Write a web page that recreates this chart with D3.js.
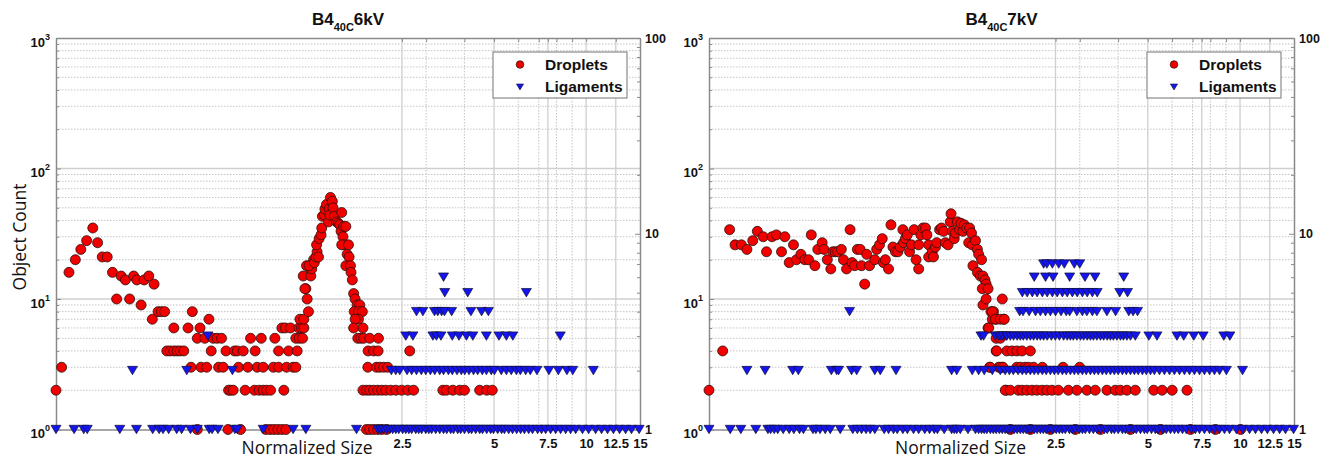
<!DOCTYPE html>
<html><head><meta charset="utf-8">
<script src="https://cdn.jsdelivr.net/npm/d3@7/dist/d3.min.js"></script>
<style>body{margin:0;background:#fff;} svg{display:block;}</style>
</head><body><svg id="c" width="1323" height="458"></svg>
<script>
// ---------- DATA ----------
const xDomain = [0.185, 15];
const xTickValues = [2.5, 5, 7.5, 10, 12.5, 15];
const xTickLabels = ["2.5", "5", "7.5", "10", "12.5", "15"];
const xMinorGrid = [3, 4, 6, 7, 8, 9];
const countTicks = [1, 10, 100, 1000];
const countExponents = ["0", "1", "2", "3"];
const ligTicks = [1, 10, 100];
const ligTickLabels = ["1", "10", "100"];
const panelNames = ["6kV", "7kV"];
const seriesNames = ["Droplets", "Ligaments"];

// B4 40C 6kV : droplets [size, count] (left axis)
const droplets6kV = [
[0.185,2],[0.193,3],[0.204,16],[0.214,20],[0.223,24],[0.233,28],[0.244,35],[0.253,27],[0.262,21],[0.272,21],[0.283,16],[0.292,10],[0.302,15],[0.312,14],[0.322,10],[0.332,15],[0.340,14],[0.351,9],[0.359,14],[0.372,15],[0.382,7],[0.387,13],[0.399,8],[0.409,8],[0.419,8],[0.426,4],[0.437,4],[0.449,4],[0.460,4],[0.471,4],[0.484,4],[0.449,6],[0.500,6],[0.516,8],[0.511,3],[0.536,5],[0.536,1],[0.547,6],[0.551,3],[0.575,3],[0.567,5],[0.585,7],[0.595,4],[0.604,5],[0.622,5],[0.643,5],[0.629,3],[0.651,3],[0.665,4],[0.678,2],[0.688,2],[0.702,2],[0.675,1],[0.742,1],[0.709,4],[0.724,4],[0.731,3],[0.757,4],[0.768,2],[0.784,3],[0.800,5],[0.828,4],[0.824,2],[0.841,3],[0.867,5],[0.880,3],[0.854,2],[0.880,2],[0.903,2],[0.930,2],
[0.898,1],[0.926,1],[0.954,1],[0.983,1],[1.013,1],[1.044,1],
[0.961,5],[0.950,3],[0.988,3],[0.988,4],[1.013,6],[1.039,6],[1.081,6],[1.028,2],[1.049,3],[1.102,3],[1.125,3],[1.065,4],[1.136,4],[1.125,5],[1.154,5],[1.183,5],[1.151,6],[1.174,6],[1.195,6],[1.160,7],[1.195,7],[1.189,15],[1.213,12],[1.225,10],[1.237,8],[1.219,18],[1.256,17],[1.259,15],[1.268,17],[1.204,12],[1.243,18],[1.286,20],
[1.293,19],[1.308,21],[1.320,23],[1.334,21],[1.315,26],[1.340,29],[1.360,31],[1.367,35],[1.374,43],[1.394,44],[1.400,49],[1.417,53],[1.439,39],[1.445,49],[1.452,44],[1.460,60],[1.481,56],[1.488,50],[1.503,43],[1.528,39],[1.551,38],[1.589,46],[1.566,37],[1.581,33],[1.612,36],[1.639,36],[1.604,30],[1.621,26],[1.589,26],[1.672,26],[1.655,22],[1.680,21],[1.639,18],[1.697,18],[1.704,16],[1.721,14],[1.738,11],[1.757,10],[1.784,9],[1.820,9],
[1.746,8],[1.803,8],[1.856,8],[1.803,7],[1.757,7],[1.738,6],[1.864,6],[1.793,5],[1.834,5],[1.874,5],[1.962,5],[2.095,5],[1.938,4],[2.020,4],[2.089,4],[1.934,3],[2.064,3],[2.115,3],[2.178,3],[2.247,3],
[1.864,2],[1.915,2],[1.962,2],[2.020,2],[2.084,2],[2.147,2],[2.214,2],[2.297,2],[2.387,2],[2.495,2],[2.612,2],[2.729,2],[3.402,2],[3.495,2],[3.668,2],[3.861,2],[4.003,2],[4.488,2],[4.732,2],[4.934,2],
[1.915,1],[1.962,1],[2.020,1],[2.084,1],[2.147,1],[2.225,1],[2.651,4]
];

// B4 40C 6kV : ligaments [size, count] (right axis)
const ligaments6kV = [
[0.185,1],[0.212,1],[0.228,1],[0.234,1],[0.299,1],[0.339,1],[0.383,1],[0.402,1],[0.414,1],[0.432,1],[0.459,1],[0.476,1],[0.509,1],[0.536,1],[0.586,1],[0.599,1],[0.626,1],[0.711,1],[0.724,1],[0.880,1],[1.102,1],[1.213,1],[1.776,1],
[2.084,1],[2.131,1],[2.177,1],[2.231,1],[2.281,1],[2.331,1],[2.387,1],[2.441,1],[2.513,1],[2.573,1],[2.632,1],[2.690,1],[2.774,1],[2.837,1],[2.900,1],[2.991,1],[3.059,1],[3.126,1],[3.224,1],[3.322,1],[3.419,1],[3.503,1],[3.608,1],[3.686,1],[3.804,1],[3.889,1],[4.003,1],[4.132,1],[4.224,1],[4.356,1],[4.488,1],[4.586,1],[4.732,1],[4.874,1],[4.980,1],[5.140,1],[5.292,1],[5.407,1],[5.583,1],[5.747,1],[5.930,1],[6.107,1],[6.285,1],[6.489,1],[6.680,1],[6.943,1],[7.150,1],[7.374,1],[7.653,1],[7.950,1],[8.251,1],[8.571,1],[8.895,1],[9.241,1],[9.730,1],[10.19,1],[10.74,1],[11.23,1],[11.75,1],[12.28,1],[12.86,1],[13.46,1],[14.07,1],[14.9,1],
[0.329,2],[0.495,2],[0.698,2],[2.309,2],[2.387,2],[2.459,2],[2.598,2],[2.690,2],[2.789,2],[2.893,2],[2.991,2],[3.097,2],[3.200,2],[3.322,2],[3.419,2],[3.547,2],[3.652,2],[3.784,2],[3.909,2],[4.011,2],[4.141,2],[4.285,2],[4.422,2],[4.576,2],[4.721,2],[4.898,2],[5.016,2],[5.281,2],[5.487,2],[5.693,2],[5.916,2],[6.094,2],[6.345,2],[6.570,2],[6.907,2],[7.558,2],[8.113,2],[8.655,2],[9.044,2],[10.56,2],
[0.580,3],[2.573,3],[2.715,3],[3.156,3],[3.242,3],[3.353,3],[3.652,3],[3.841,3],[4.062,3],[4.263,3],[4.721,3],[5.189,3],[5.487,3],[5.759,3],[8.233,3],
[2.789,4],[2.927,4],[3.194,4],[3.273,4],[3.370,4],[3.444,4],[3.634,4],[4.202,4],[4.553,4],[4.792,4],
[3.451,5],[4.102,5],[6.378,5],[3.419,6]
];

// B4 40C 7kV : droplets
const droplets7kV = [
[0.185,2],[0.205,4],[0.216,34],[0.225,26],[0.236,26],[0.246,24],[0.257,28],[0.266,33],[0.278,30],[0.285,23],[0.297,30],[0.307,31],[0.319,23],[0.327,30],[0.338,19],[0.349,26],[0.357,20],[0.369,22],[0.380,20],[0.391,20],[0.399,31],[0.410,18],[0.419,24],[0.433,27],[0.439,24],[0.450,20],[0.462,17],[0.469,23],[0.478,23],[0.487,23],[0.500,24],[0.508,20],[0.520,17],[0.534,34],[0.542,19],[0.553,18],[0.564,24],[0.576,24],[0.582,18],[0.596,13],[0.605,22],[0.618,18],
[0.643,20],[0.652,24],[0.666,26],[0.680,29],[0.686,19],[0.696,20],[0.713,17],[0.726,37],[0.737,25],[0.751,23],[0.765,23],[0.778,25],[0.794,34],[0.798,27],[0.809,29],[0.821,31],[0.835,23],[0.847,26],[0.864,34],[0.877,20],[0.894,17],[0.894,26],[0.909,31],[0.923,35],[0.941,35],[0.951,31],[0.964,26],[0.964,21],[0.990,23],[0.999,21],[1.014,25],[1.024,27],[1.046,34],[1.062,35],[1.078,33],[1.093,27],[1.115,26],[1.134,39],[1.140,45],[1.151,33],[1.168,29],[1.179,32],[1.196,39],[1.216,34],[1.229,38],[1.247,33],[1.259,37],[1.283,35],[1.302,27],[1.311,35],[1.330,32],[1.337,26],[1.370,28],[1.344,18],[1.390,24],[1.403,22],[1.434,20],[1.390,16],[1.421,15],[1.449,15],[1.471,14],[1.484,13],[1.442,12],[1.506,12],[1.449,9],[1.484,10],[1.676,10],[1.539,8],[1.569,8],[1.555,7],[1.600,7],[1.692,7],[1.506,6],[1.600,5],[1.651,5],[1.600,4],[1.734,4],[1.523,3],[1.631,3],[1.676,3],[1.725,2],
[1.555,8],[1.592,7],[1.651,7],[1.701,7],[1.513,6],
[1.606,4],[1.803,4],[1.869,4],[1.944,4],[2.069,4],
[1.531,3],[1.651,3],[1.684,3],[1.869,3],[1.919,3],[1.991,3],[2.038,3],[2.120,3],[2.264,3],[2.645,3],[2.998,3],
[1.713,2],[1.780,2],[1.891,2],[1.944,2],[2.015,2],[2.095,2],[2.173,2],[2.259,2],[2.342,2],[2.435,2],[2.554,2],[2.754,2],[2.935,2],[3.164,2],[3.370,2],[3.678,2],[3.917,2],[4.071,2],[4.275,2],[4.553,2],[5.228,2],[5.570,2],[6.005,2],[6.713,2],
[1.780,1],[2.069,1],[2.405,1],[2.900,1],[3.503,1],[4.389,1],[5.500,1],[6.892,1],[8.311,1],[10.04,1]
];

// B4 40C 7kV : ligaments
const ligaments7kV = [
[0.185,1],[0.217,1],[0.235,1],[0.263,1],[0.288,1],[0.294,1],[0.302,1],[0.310,1],[0.323,1],[0.338,1],[0.350,1],[0.365,1],[0.376,1],[0.404,1],[0.413,1],[0.426,1],[0.443,1],[0.460,1],[0.496,1],[0.545,1],[0.564,1],[0.582,1],[0.602,1],[0.621,1],[0.643,1],[0.690,1],[0.713,1],[0.740,1],[0.761,1],[0.794,1],[0.821,1],[0.860,1],[0.894,1],[0.936,1],[0.970,1],[1.005,1],[1.029,1],[1.083,1],[1.145,1],[1.168,1],[1.190,1],[1.222,1],[1.295,1],[1.370,1],[1.403,1],[1.434,1],[1.463,1],[1.492,1],
[1.532,1],[1.566,1],[1.600,1],[1.639,1],[1.676,1],[1.713,1],[1.750,1],[1.793,1],[1.834,1],[1.874,1],[1.919,1],[1.962,1],[2.005,1],[2.053,1],
[2.084,1],[2.131,1],[2.177,1],[2.231,1],[2.281,1],[2.331,1],[2.387,1],[2.441,1],[2.513,1],[2.573,1],[2.632,1],[2.690,1],[2.774,1],[2.837,1],[2.900,1],[2.991,1],[3.059,1],[3.126,1],[3.224,1],[3.322,1],[3.419,1],[3.503,1],[3.608,1],[3.686,1],[3.804,1],[3.889,1],[4.003,1],[4.132,1],[4.224,1],[4.356,1],[4.488,1],[4.586,1],[4.732,1],[4.874,1],[4.980,1],[5.140,1],[5.292,1],[5.407,1],[5.583,1],[5.747,1],[5.930,1],[6.107,1],[6.285,1],[6.489,1],[6.680,1],[6.943,1],[7.150,1],[7.374,1],[7.653,1],[7.950,1],[8.251,1],[8.571,1],[8.895,1],[9.241,1],[9.730,1],[10.19,1],[10.74,1],[11.23,1],[11.75,1],[12.28,1],[12.86,1],[13.46,1],[14.07,1],[14.95,1],
[0.246,2],[0.282,2],[0.347,2],[0.362,2],[0.464,2],[0.483,2],[0.490,2],[0.540,2],[0.561,2],[0.643,2],[0.670,2],[0.754,2],[1.145,2],[1.190,2],[1.337,2],[1.403,2],[1.463,2],
[1.555,2],[1.651,2],[1.713,2],[1.767,2],[1.820,2],[1.887,2],[1.948,2],[2.005,2],[2.069,2],[2.131,2],[2.193,2],[2.264,2],[2.331,2],[2.405,2],[2.477,2],[2.549,2],[2.632,2],[2.709,2],[2.795,2],[2.879,2],[2.963,2],[3.059,2],[3.149,2],[3.249,2],[3.346,2],[3.444,2],[3.555,2],[3.660,2],[3.776,2],[3.889,2],[4.003,2],[4.132,2],[4.254,2],[4.389,2],[4.521,2],[4.652,2],[4.803,2],[4.945,2],[5.102,2],[5.254,2],[5.459,2],[5.665,2],[5.885,2],[6.107,2],[6.345,2],[6.584,2],[6.840,2],[7.099,2],[7.374,2],[7.653,2],[7.950,2],[8.251,2],[8.571,2],[9.025,2],[10.19,2],
[1.428,3],[1.456,3],[1.589,3],[1.631,3],[1.651,3],[1.684,3],[1.725,3],[1.734,3],[1.780,3],[1.824,3],[1.874,3],[1.919,3],[1.962,3],[2.015,3],[2.069,3],[2.120,3],[2.177,3],[2.231,3],[2.286,3],[2.348,3],[2.423,3],[2.495,3],[2.573,3],[2.657,3],[2.729,3],[2.795,3],[2.858,3],[2.935,3],[3.014,3],[3.088,3],[3.171,3],[3.249,3],[3.322,3],[3.411,3],[3.503,3],[3.589,3],[3.686,3],[3.776,3],[3.861,3],[3.965,3],[4.071,3],[4.163,3],[4.275,3],[4.389,3],[4.553,3],[5.040,3],[5.357,3],[6.226,3],[6.551,3],[7.062,3],[7.581,3],[8.850,3],[9.262,3],
[0.532,4],[1.909,4],[1.958,4],[2.050,4],[2.151,4],[2.231,4],[2.319,4],[2.405,4],[2.500,4],[2.606,4],[2.709,4],[2.780,4],[2.935,4],[3.059,4],[3.164,4],[3.298,4],[3.411,4],[3.678,4],[3.926,4],[4.336,4],[4.478,4],[4.629,4],
[1.948,5],[2.020,5],[2.100,5],[2.177,5],[2.264,5],[2.348,5],[2.441,5],[2.531,5],[2.632,5],[2.729,5],[2.837,5],[2.942,5],[3.059,5],[3.171,5],[3.298,5],[3.419,5],[4.050,5],[4.294,5],
[2.131,6],[2.319,6],[2.454,6],[2.780,6],[3.119,6],[3.363,6],[4.172,6],
[2.286,7],[2.342,7],[2.441,7],[2.561,7],[2.670,7],[2.879,7],[2.998,7]
];

// ---------- DRAWING ----------
const svg = d3.select("#c");
const TOP = 38, BOTTOM = 429.5;
const tickFont = "'Liberation Sans', Arial, sans-serif";
const labelFont = "'Open Sans', 'Noto Sans', sans-serif";
const triPath = "M-5,-4.2L5,-4.2L0,4.2Z";

function drawPanel(x0, x1, drops, ligs, name, showYLabel) {
  const x = d3.scaleLog().domain(xDomain).range([x0, x1]);
  const yL = d3.scaleLog().domain([1, 1000]).range([BOTTOM, TOP]);
  const yR = d3.scaleLog().domain([1, 100]).range([BOTTOM, TOP]);
  const g = svg.append("g");

  const minorL = [];
  for (let e = 0; e < 3; e++) for (let m = 2; m <= 9; m++) minorL.push(m * Math.pow(10, e));
  const minorR = [];
  for (let e = 0; e < 2; e++) for (let m = 2; m <= 9; m++) minorR.push(m * Math.pow(10, e));

  g.append("g").selectAll("line").data(minorL).join("line")
    .attr("x1", x0).attr("x2", x1).attr("y1", d => yL(d)).attr("y2", d => yL(d))
    .attr("stroke", "#c4c4c4").attr("stroke-width", 1).attr("stroke-dasharray", "1.5,1.5");
  g.append("g").selectAll("line").data(xMinorGrid).join("line")
    .attr("x1", d => x(d)).attr("x2", d => x(d)).attr("y1", TOP).attr("y2", BOTTOM)
    .attr("stroke", "#c4c4c4").attr("stroke-width", 1).attr("stroke-dasharray", "1.5,1.5");
  g.append("g").selectAll("line").data([10, 100]).join("line")
    .attr("x1", x0).attr("x2", x1).attr("y1", d => yL(d)).attr("y2", d => yL(d))
    .attr("stroke", "#cfcfcf").attr("stroke-width", 1.5);
  g.append("g").selectAll("line").data(xTickValues.slice(0, -1)).join("line")
    .attr("x1", d => x(d)).attr("x2", d => x(d)).attr("y1", TOP).attr("y2", BOTTOM)
    .attr("stroke", "#cfcfcf").attr("stroke-width", 1.3);

  const axColor = "#8a8a8a";
  function styleAxis(sel) {
    sel.select(".domain").attr("stroke", axColor).attr("stroke-width", 1.5);
    sel.selectAll(".tick line").attr("stroke", axColor);
    sel.selectAll("text").attr("font-family", tickFont).attr("font-weight", "bold")
      .attr("font-size", 13).attr("fill", "#111");
  }
  const bAx = g.append("g").attr("transform", `translate(0,${BOTTOM})`)
    .call(d3.axisBottom(x).tickValues(xTickValues).tickFormat((d, i) => xTickLabels[i])
      .tickSizeInner(-5).tickSizeOuter(0).tickPadding(9));
  styleAxis(bAx);
  g.append("g").attr("transform", `translate(0,${BOTTOM})`)
    .call(d3.axisBottom(x).tickValues(xMinorGrid).tickFormat("").tickSizeInner(-3).tickSizeOuter(0))
    .call(s => { s.select(".domain").remove(); s.selectAll("line").attr("stroke", axColor); });
  const tAx = g.append("g").attr("transform", `translate(0,${TOP})`)
    .call(d3.axisTop(x).tickValues(xTickValues.concat(xMinorGrid)).tickFormat("")
      .tickSizeInner(-4).tickSizeOuter(0));
  styleAxis(tAx);
  const lAx = g.append("g").attr("transform", `translate(${x0},0)`)
    .call(d3.axisLeft(yL).tickValues(countTicks).tickFormat(() => "")
      .tickSizeInner(-5).tickSizeOuter(0).tickPadding(6));
  styleAxis(lAx);
  lAx.selectAll(".tick").each(function (d, i) {
    const t = d3.select(this).append("text")
      .attr("x", -6).attr("y", 8).attr("text-anchor", "end")
      .attr("font-family", tickFont).attr("font-weight", "bold").attr("fill", "#111");
    t.append("tspan").attr("font-size", 13).text("10");
    t.append("tspan").attr("font-size", 9).attr("dy", -7).text(countExponents[i]);
  });
  g.append("g").attr("transform", `translate(${x0},0)`)
    .call(d3.axisLeft(yL).tickValues(minorL).tickFormat("").tickSizeInner(-3).tickSizeOuter(0))
    .call(s => { s.select(".domain").remove(); s.selectAll("line").attr("stroke", axColor); });
  const rAx = g.append("g").attr("transform", `translate(${x1},0)`)
    .call(d3.axisRight(yR).tickValues(ligTicks).tickFormat((d, i) => ligTickLabels[i])
      .tickSizeInner(-5).tickSizeOuter(0).tickPadding(5));
  styleAxis(rAx);
  rAx.selectAll("text").attr("font-size", 12.5);
  g.append("g").attr("transform", `translate(${x1},0)`)
    .call(d3.axisRight(yR).tickValues(minorR).tickFormat("").tickSizeInner(-3).tickSizeOuter(0))
    .call(s => { s.select(".domain").remove(); s.selectAll("line").attr("stroke", axColor); });

  g.append("g").selectAll("circle").data(drops).join("circle")
    .attr("cx", d => x(d[0])).attr("cy", d => yL(d[1])).attr("r", 5)
    .attr("fill", "#f20000").attr("stroke", "#2a1010").attr("stroke-width", 0.8);
  g.append("g").selectAll("path").data(ligs).join("path")
    .attr("transform", d => `translate(${x(d[0])},${yR(d[1])})`).attr("d", triPath)
    .attr("fill", "#1414f0").attr("stroke", "#101030").attr("stroke-width", 0.7);

  const cx = (x0 + x1) / 2;
  const tt = g.append("text").attr("x", cx).attr("y", 25).attr("text-anchor", "middle")
    .attr("font-family", tickFont).attr("font-weight", "bold").attr("fill", "#111");
  tt.append("tspan").attr("font-size", 17).text("B4");
  tt.append("tspan").attr("font-size", 11).attr("dy", 6).text("40C");
  tt.append("tspan").attr("font-size", 17).attr("dy", -6).text(name);

  g.append("text").attr("x", cx - 41).attr("y", 454).attr("text-anchor", "middle")
    .attr("font-family", labelFont).attr("font-size", 17.5).attr("fill", "#111").text("Normalized Size");
  if (showYLabel) {
    g.append("text").attr("transform", "translate(26,237) rotate(-90)").attr("text-anchor", "middle")
      .attr("font-family", labelFont).attr("font-size", 17.5).attr("fill", "#111").text("Object Count");
  }

  const lx = x1 - 147, ly = 52;
  const lg = g.append("g").attr("transform", `translate(${lx},${ly})`);
  lg.append("rect").attr("width", 134).attr("height", 46).attr("fill", "#fff")
    .attr("stroke", "#8a8a8a").attr("stroke-width", 1.2);
  lg.append("circle").attr("cx", 27).attr("cy", 12.5).attr("r", 3.8)
    .attr("fill", "#f20000").attr("stroke", "#2a1010").attr("stroke-width", 0.7);
  lg.append("path").attr("transform", "translate(27,35)").attr("d", "M-3.6,-3L3.6,-3L0,3Z")
    .attr("fill", "#1414f0").attr("stroke", "#101030").attr("stroke-width", 0.6);
  lg.selectAll("text").data(seriesNames).join("text")
    .attr("x", 52).attr("y", (d, i) => 18 + i * 21.5)
    .attr("font-family", tickFont).attr("font-weight", "bold").attr("font-size", 15.5)
    .attr("fill", "#111").text(d => d);
}

drawPanel(56, 640, droplets6kV, ligaments6kV, panelNames[0], true);
drawPanel(709, 1294, droplets7kV, ligaments7kV, panelNames[1], false);
</script>
</body></html>
